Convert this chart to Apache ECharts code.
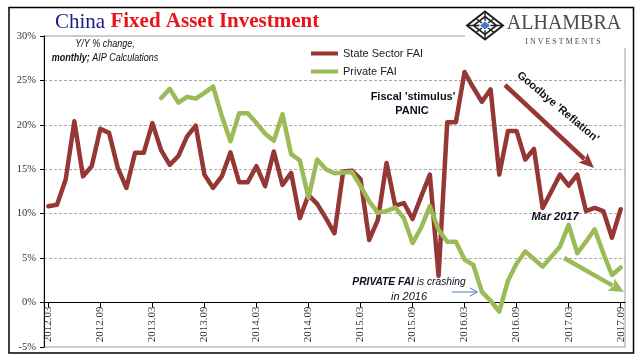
<!DOCTYPE html>
<html><head><meta charset="utf-8">
<script src="https://cdn.jsdelivr.net/npm/echarts@6/dist/echarts.min.js"></script>
<style>html,body{margin:0;padding:0;background:#fff}#c{width:641px;height:361px}</style>
</head><body><div id="c"></div>
<script>
const categories = [
 '2012.03','2012.04','2012.05','2012.06','2012.07','2012.08','2012.09','2012.10','2012.11','2012.12',
 '2013.01','2013.02','2013.03','2013.04','2013.05','2013.06','2013.07','2013.08','2013.09','2013.10','2013.11','2013.12',
 '2014.01','2014.02','2014.03','2014.04','2014.05','2014.06','2014.07','2014.08','2014.09','2014.10','2014.11','2014.12',
 '2015.01','2015.02','2015.03','2015.04','2015.05','2015.06','2015.07','2015.08','2015.09','2015.10','2015.11','2015.12',
 '2016.01','2016.02','2016.03','2016.04','2016.05','2016.06','2016.07','2016.08','2016.09','2016.10','2016.11','2016.12',
 '2017.01','2017.02','2017.03','2017.04','2017.05','2017.06','2017.07','2017.08','2017.09'
];
const stateSectorFAI = [
 10.85, 11.0, 13.85, 20.4, 14.2, 15.35, 19.55, 19.1, 15.2, 12.9,
 16.85, 16.85, 20.2, 17.15, 15.5, 16.5, 18.7, 19.9, 14.4, 12.9, 14.2, 16.9,
 13.55, 13.55, 15.35, 13.1, 17.0, 13.25, 14.6, 9.5, 12.1, 11.1, 9.5, 7.8,
 14.75, 14.85, 13.9, 7.05, 9.3, 15.7, 10.9, 11.2, 9.4, 11.95, 14.4, 3.0,
 20.3, 20.3, 25.95, 24.2, 22.6, 24.0, 14.4, 19.3, 19.3, 16.1, 17.3, 10.65,
 12.5, 14.4, 13.15, 14.4, 10.3, 10.65, 10.3, 7.3, 10.5
];
const privateFAI = [
 null, null, null, null, null, null, null, null, null, null,
 null, null, null, 23.0, 24.05, 22.5, 23.15, 22.95, 23.6, 24.3, 21.0, 18.15,
 21.3, 21.3, 20.2, 19.0, 18.2, 21.2, 16.7, 16.0, 11.8, 16.1, 15.0, 14.55,
 14.65, 14.7, 13.1, 11.4, 10.1, 10.3, 10.7, 9.5, 6.7, 8.45, 10.85, 8.2,
 6.85, 6.85, 4.85, 4.25, 1.2, 0.2, -1.0, 2.45, 4.4, 5.75, 4.9, 4.05,
 5.15, 6.3, 8.75, 5.55, 6.85, 8.25, 5.55, 3.1, 3.95
];
const yMin = -5, yMax = 30, yStep = 5;
const seriesNames = ['State Sector FAI', 'Private FAI'];
const seriesColors = ['#953735', '#9BBB59'];

const gridTop = 36, gridBottom = 14, chartH = 361;
const plotH = chartH - gridTop - gridBottom;
// move the category axis up from the -5% edge to the 0% line
const zeroOffset = -plotH * (0 - yMin) / (yMax - yMin);

const chart = echarts.init(document.getElementById('c'), null, {renderer: 'canvas'});

function arrow(x1, y1, x2, y2, color, w, headLen, headHalf) {
  const dx = x2 - x1, dy = y2 - y1, L = Math.hypot(dx, dy);
  const ux = dx / L, uy = dy / L, px = -uy, py = ux;
  const bx = x2 - ux * headLen, by = y2 - uy * headLen;
  return [
    {type: 'line', z: 50, shape: {x1: x1, y1: y1, x2: bx + ux * 2, y2: by + uy * 2}, style: {stroke: color, lineWidth: w, lineCap: 'butt'}},
    {type: 'polygon', z: 50, shape: {points: [[x2, y2], [bx + px * headHalf, by + py * headHalf], [bx + ux * 3, by + uy * 3], [bx - px * headHalf, by - py * headHalf]]}, style: {fill: color}}
  ];
}

const graphics = [];
// outer frame
graphics.push({type: 'rect', z: 120, shape: {x: 9, y: 7.5, width: 624.5, height: 345.5}, style: {fill: 'none', stroke: '#000', lineWidth: 1.5}});
// logo backdrop
graphics.push({type: 'rect', z: 100, shape: {x: 465, y: 8, width: 168, height: 40}, style: {fill: '#fff'}});
// logo icon
const cx = 485, cy = 25.5;
graphics.push({type: 'polygon', z: 101, shape: {points: [[cx, cy - 14], [cx + 18, cy], [cx, cy + 14], [cx - 18, cy]]}, style: {fill: 'none', stroke: '#222', lineWidth: 2}});
graphics.push({type: 'polygon', z: 101, shape: {points: [[cx, cy - 9], [cx + 11.5, cy], [cx, cy + 9], [cx - 11.5, cy]]}, style: {fill: 'none', stroke: '#222', lineWidth: 1.6}});
graphics.push({type: 'line', z: 101, shape: {x1: cx - 9, y1: cy - 7, x2: cx + 9, y2: cy + 7}, style: {stroke: '#222', lineWidth: 1.4}});
graphics.push({type: 'line', z: 101, shape: {x1: cx + 9, y1: cy - 7, x2: cx - 9, y2: cy + 7}, style: {stroke: '#222', lineWidth: 1.4}});
graphics.push({type: 'line', z: 101, shape: {x1: cx, y1: cy - 14, x2: cx, y2: cy + 14}, style: {stroke: '#222', lineWidth: 1.4}});
graphics.push({type: 'line', z: 101, shape: {x1: cx - 18, y1: cy, x2: cx + 18, y2: cy}, style: {stroke: '#222', lineWidth: 1.4}});
graphics.push({type: 'polygon', z: 102, shape: {points: [[cx, cy - 4.5], [cx + 5.5, cy], [cx, cy + 4.5], [cx - 5.5, cy]]}, style: {fill: '#3B7BC8', stroke: '#fff', lineWidth: 1}});
graphics.push({type: 'text', z: 101, x: 564, y: 24, style: {text: 'ALHAMBRA', x: 0, y: 0, align: 'center', verticalAlign: 'middle', fontFamily: 'Liberation Serif', fontSize: 20, fill: '#4a4a4a'}});
graphics.push({type: 'text', z: 101, x: 563, y: 42, style: {text: 'I N V E S T M E N T S', x: 0, y: 0, align: 'center', verticalAlign: 'middle', fontFamily: 'Liberation Serif', fontSize: 8, fill: '#4a4a4a'}});
// title
graphics.push({type: 'text', z: 101, x: 55, y: 22, style: {text: '{a|China}{b| Fixed Asset Investment}', x: 0, y: 0, align: 'left', verticalAlign: 'middle',
  rich: {a: {fontFamily: 'Liberation Serif', fontSize: 21, fill: '#1C1C80'}, b: {fontFamily: 'Liberation Serif', fontSize: 21, fontWeight: 'bold', fill: '#E8141B'}}}});
// subtitle
graphics.push({type: 'text', z: 101, x: 105, y: 44.5, scaleX: 0.9, style: {text: 'Y/Y % change,', x: 0, y: 0, align: 'center', verticalAlign: 'middle', fontFamily: 'Liberation Sans', fontStyle: 'italic', fontSize: 10, fill: '#111'}});
graphics.push({type: 'text', z: 101, x: 105, y: 58, scaleX: 0.9, style: {text: '{b|monthly;}{n| AIP Calculations}', x: 0, y: 0, align: 'center', verticalAlign: 'middle',
  rich: {b: {fontFamily: 'Liberation Sans', fontStyle: 'italic', fontWeight: 'bold', fontSize: 10, fill: '#111'}, n: {fontFamily: 'Liberation Sans', fontStyle: 'italic', fontSize: 10, fill: '#111'}}}});
// annotations
graphics.push({type: 'text', z: 60, x: 413, y: 96.5, style: {text: "Fiscal 'stimulus'", x: 0, y: 0, align: 'center', verticalAlign: 'middle', fontFamily: 'Liberation Sans', fontWeight: 'bold', fontSize: 11, fill: '#0d0d1f'}});
graphics.push({type: 'text', z: 60, x: 412, y: 111, style: {text: 'PANIC', x: 0, y: 0, align: 'center', verticalAlign: 'middle', fontFamily: 'Liberation Sans', fontWeight: 'bold', fontSize: 11, fill: '#0d0d1f'}});
graphics.push({type: 'text', z: 60, x: 558, y: 107, rotation: -40 * Math.PI / 180, style: {text: "Goodbye 'Reflation'", x: 0, y: 0, align: 'center', verticalAlign: 'middle', fontFamily: 'Liberation Sans', fontWeight: 'bold', fontSize: 11, fill: '#111'}});
graphics.push({type: 'text', z: 60, x: 555, y: 217, style: {text: 'Mar 2017', x: 0, y: 0, align: 'center', verticalAlign: 'middle', fontFamily: 'Liberation Sans', fontWeight: 'bold', fontStyle: 'italic', fontSize: 11, fill: '#0d0d1f'}});
graphics.push({type: 'text', z: 60, x: 409, y: 282, scaleX: 0.93, style: {text: '{b|PRIVATE FAI}{n| is crashing}', x: 0, y: 0, align: 'center', verticalAlign: 'middle',
  rich: {b: {fontFamily: 'Liberation Sans', fontStyle: 'italic', fontWeight: 'bold', fontSize: 11, fill: '#0d0d1f'}, n: {fontFamily: 'Liberation Sans', fontStyle: 'italic', fontSize: 11, fill: '#0d0d1f'}}}});
graphics.push({type: 'text', z: 60, x: 409, y: 296.5, style: {text: 'in 2016', x: 0, y: 0, align: 'center', verticalAlign: 'middle', fontFamily: 'Liberation Sans', fontStyle: 'italic', fontSize: 11, fill: '#0d0d1f'}});
arrow(505, 85, 594, 168, '#953735', 4.5, 15, 6.5).forEach(g => graphics.push(g));
arrow(564, 258, 624, 292, '#9BBB59', 4.5, 15, 7).forEach(g => graphics.push(g));
graphics.push({type: 'line', z: 60, shape: {x1: 452, y1: 292, x2: 477, y2: 292}, style: {stroke: '#4F81BD', lineWidth: 1}});
graphics.push({type: 'polyline', z: 60, shape: {points: [[470, 288], [477.5, 292], [470, 296]]}, style: {stroke: '#4F81BD', lineWidth: 1, fill: 'none'}});

chart.setOption({
  animation: false,
  backgroundColor: '#fff',
  grid: {left: 44, right: 16, top: gridTop, bottom: gridBottom, containLabel: false, outerBoundsMode: 'none', show: true, borderColor: '#999', borderWidth: 1, backgroundColor: 'transparent'},
  legend: {
    orient: 'vertical', left: 306, top: 43, itemWidth: 27, itemHeight: 4, itemGap: 7, icon: 'rect',
    data: seriesNames,
    textStyle: {fontFamily: 'Liberation Sans', fontSize: 11, color: '#222', padding: [0, 0, 0, 0]}
  },
  xAxis: {
    type: 'category', data: categories, boundaryGap: true, position: 'bottom', offset: zeroOffset,
    axisLine: {onZero: false, lineStyle: {color: '#000', width: 1}},
    axisTick: {show: true, interval: 5, alignWithLabel: true, length: 5, lineStyle: {color: '#000'}},
    axisLabel: {interval: 5, rotate: 90, margin: 4, fontFamily: 'Liberation Serif', fontSize: 11, color: '#333'},
    splitLine: {show: false}
  },
  yAxis: {
    type: 'value', min: yMin, max: yMax, interval: yStep,
    axisLine: {show: true, lineStyle: {color: '#000', width: 1}},
    axisTick: {show: true, length: 4, lineStyle: {color: '#000'}},
    axisLabel: {formatter: '{value}%', fontFamily: 'Liberation Serif', fontSize: 10.5, color: '#333', margin: 8},
    splitLine: {show: true, showMinLine: false, showMaxLine: false, lineStyle: {type: [3, 2], color: '#aaa', width: 1}}
  },
  series: [
    {name: seriesNames[0], type: 'line', data: stateSectorFAI, symbol: 'none', color: seriesColors[0], z: 3,
     lineStyle: {width: 4.5, color: seriesColors[0], cap: 'round', join: 'round'}},
    {name: seriesNames[1], type: 'line', data: privateFAI, symbol: 'none', color: seriesColors[1], z: 4, connectNulls: false,
     lineStyle: {width: 4.5, color: seriesColors[1], cap: 'round', join: 'round'}}
  ],
  graphic: graphics
});
</script></body></html>
